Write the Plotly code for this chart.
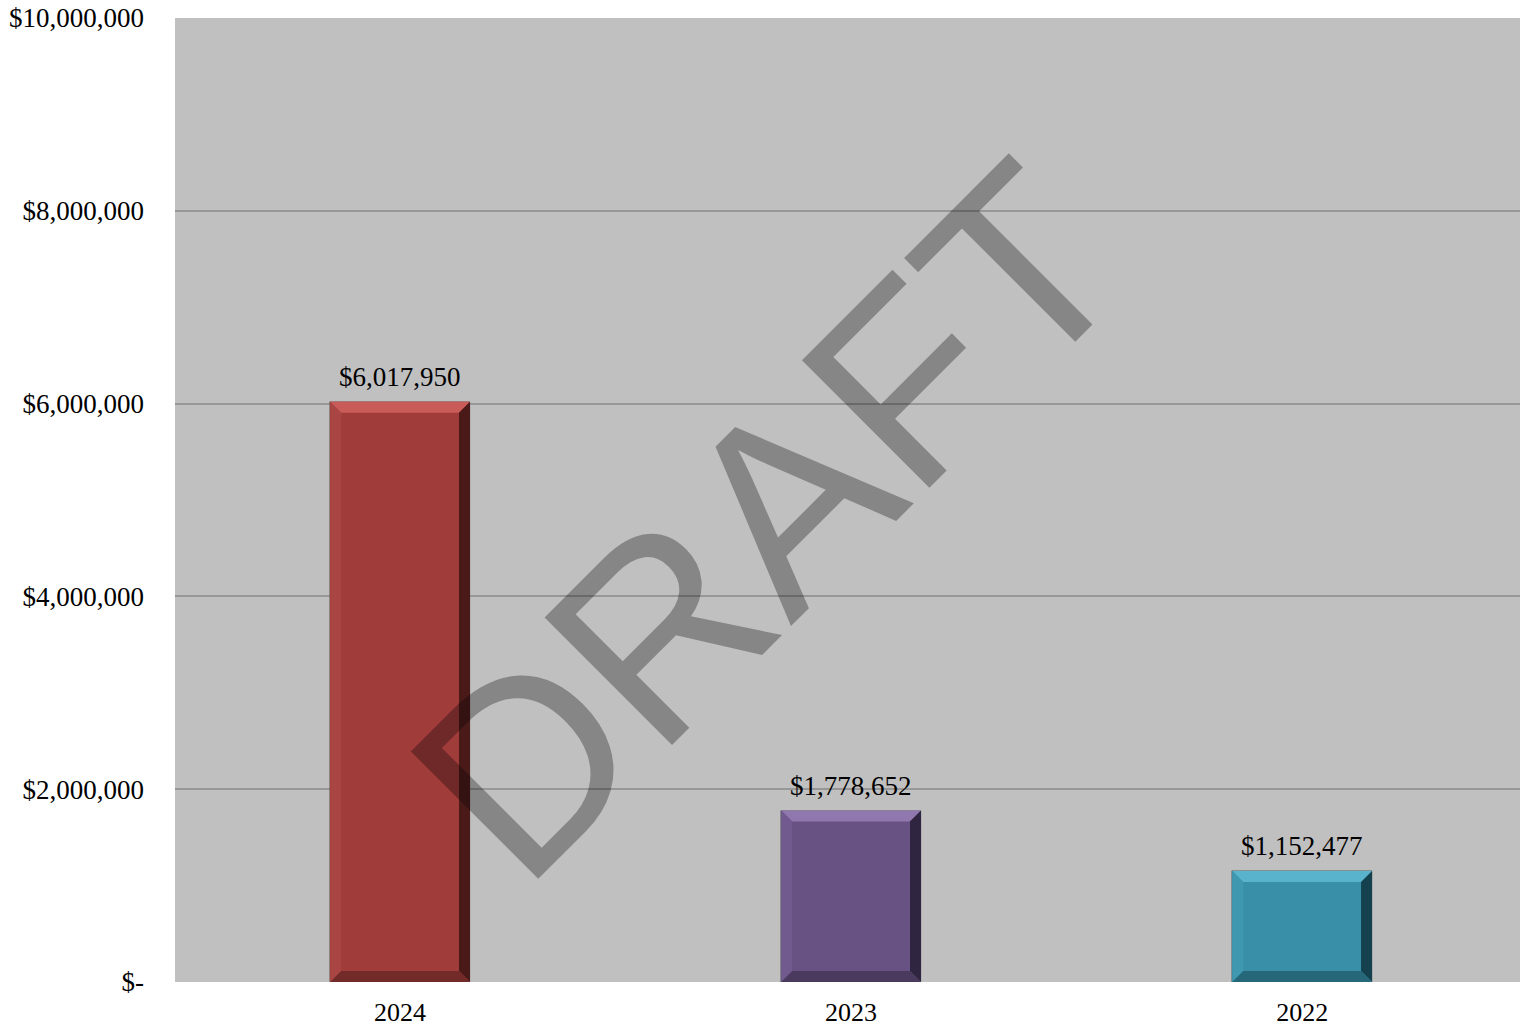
import plotly.graph_objects as go

categories = ["2024", "2023", "2022"]
values = [6017950, 1778652, 1152477]
labels = ["$6,017,950", "$1,778,652", "$1,152,477"]
tick_vals = [0, 2000000, 4000000, 6000000, 8000000, 10000000]
tick_text = ["$-", "$2,000,000", "$4,000,000", "$6,000,000", "$8,000,000", "$10,000,000"]

base_colors = ["#A03C3A", "#685284", "#388FA7"]
top_colors = ["#C95B58", "#9078AE", "#5AB3CC"]
left_colors = ["#A94543", "#705A8E", "#3F97B0"]
right_colors = ["#4A1A19", "#2F2540", "#15404D"]
bottom_colors = ["#732B29", "#4A3A5E", "#26677A"]

W = 1520
H = 1029
ml, mr, mt, mb = 175, 0, 18, 47
ymax = 10000000
x_range = [-0.499, 2.483]
bar_w = 0.31
plot_w = W - ml - mr
plot_h = H - mt - mb
unit_px = plot_w / (x_range[1] - x_range[0])
bev_px = 11
dx = bev_px / unit_px
dy = bev_px / plot_h * ymax

fig = go.Figure()
fig.add_trace(go.Bar(
    x=list(range(len(categories))), y=values,
    width=bar_w,
    marker=dict(color=base_colors, line=dict(color="#555555", width=0.5)),
    hoverinfo="skip",
))


def path(pts):
    return "M " + " L ".join(f"{px},{py}" for px, py in pts) + " Z"


shapes = []
for i, v in enumerate(values):
    x0, x1 = i - bar_w / 2, i + bar_w / 2
    y0, y1 = 0, v
    shapes.append(dict(type="path", xref="x", yref="y", line=dict(width=0),
                       fillcolor=top_colors[i],
                       path=path([(x0, y1), (x1, y1), (x1 - dx, y1 - dy), (x0 + dx, y1 - dy)])))
    shapes.append(dict(type="path", xref="x", yref="y", line=dict(width=0),
                       fillcolor=left_colors[i],
                       path=path([(x0, y1), (x0 + dx, y1 - dy), (x0 + dx, y0 + dy), (x0, y0)])))
    shapes.append(dict(type="path", xref="x", yref="y", line=dict(width=0),
                       fillcolor=right_colors[i],
                       path=path([(x1, y1), (x1, y0), (x1 - dx, y0 + dy), (x1 - dx, y1 - dy)])))
    shapes.append(dict(type="path", xref="x", yref="y", line=dict(width=0),
                       fillcolor=bottom_colors[i],
                       path=path([(x0, y0), (x1, y0), (x1 - dx, y0 + dy), (x0 + dx, y0 + dy)])))

annotations = []
for i, (v, t) in enumerate(zip(values, labels)):
    annotations.append(dict(x=i, y=v, xref="x", yref="y", text=t, showarrow=False,
                            yanchor="bottom", yshift=8,
                            font=dict(family="Liberation Serif", size=27, color="#000000")))

annotations.append(dict(x=0.4405, y=0.478, xref="paper", yref="paper", text="DRAFT",
                        showarrow=False, textangle=-45,
                        font=dict(family="Liberation Sans", size=262, color="rgba(0,0,0,0.3)")))

fig.update_layout(
    width=W, height=H,
    margin=dict(l=ml, r=mr, t=mt, b=mb),
    paper_bgcolor="#FFFFFF",
    plot_bgcolor="#C0C0C0",
    showlegend=False,
    shapes=shapes,
    annotations=annotations,
    bargap=0,
    xaxis=dict(
        tickvals=list(range(len(categories))), ticktext=categories,
        range=x_range,
        showgrid=False, zeroline=False, showline=False,
        tickfont=dict(family="Liberation Serif", size=26, color="#000000"),
        ticks="", ticklabelstandoff=12,
    ),
    yaxis=dict(
        range=[0, ymax], tickvals=tick_vals, ticktext=tick_text,
        showgrid=True, gridcolor="#979797", gridwidth=1.5,
        zeroline=False, showline=False,
        tickfont=dict(family="Liberation Serif", size=27, color="#000000"),
        ticks="", ticklabelstandoff=30, ticklabeloverflow="allow",
    ),
)

fig.write_html(
    "out.html",
    config={"displayModeBar": False},
    post_script="document.body.style.margin='0';document.body.style.overflow='hidden';",
)
